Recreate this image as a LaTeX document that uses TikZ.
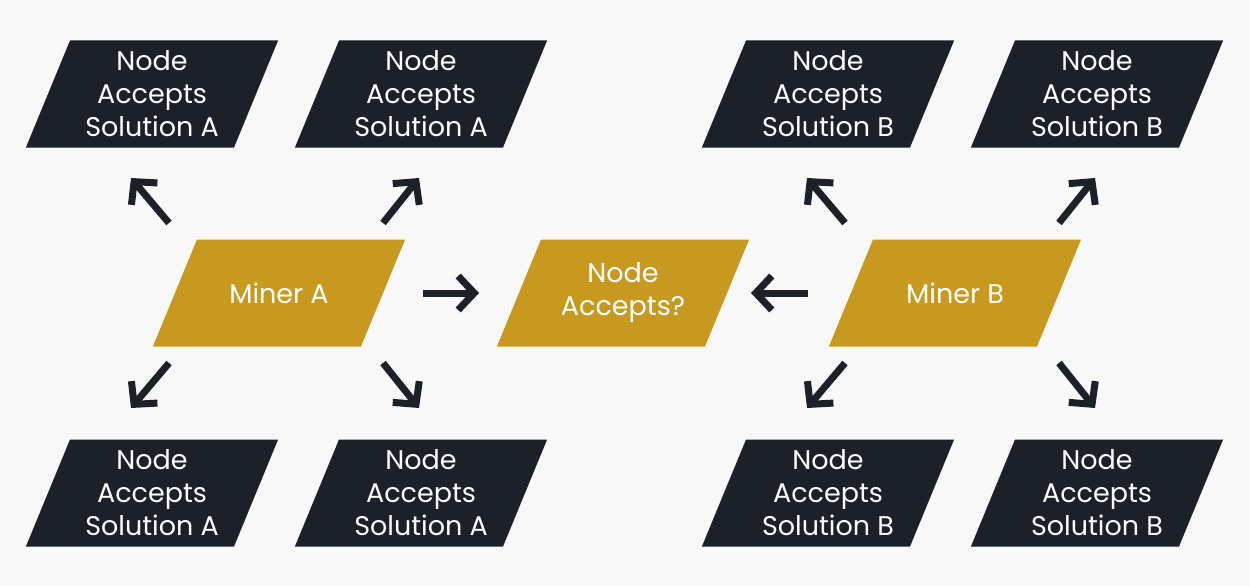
\documentclass[tikz,border=0pt]{standalone}
\usepackage{fontspec}
\setmainfont{Poppins}
\usetikzlibrary{shapes.geometric,arrows.meta}

\definecolor{bgcol}{HTML}{F8F8F8}
\definecolor{darkcol}{HTML}{1B2029}
\definecolor{goldcol}{HTML}{C8991F}

\tikzset{
  para/.style={trapezium, trapezium left angle=67.6, trapezium right angle=112.4,
    inner sep=0pt, text=white, font=\fontsize{27}{33}\selectfont,
    execute at begin node={\begin{minipage}[c][107pt][c]{164pt}\centering},
    execute at end node={\end{minipage}}},
  nodebox/.style={para, fill=darkcol},
  minerbox/.style={para, fill=goldcol},
  arr/.style={draw=darkcol, line width=7pt,
    -{Straight Barb[length=16pt, width=34pt]}}
}

\begin{document}
\begin{tikzpicture}[x=1pt,y=-1pt]
\fill[bgcol] (0,0) rectangle (1250,586);
\useasboundingbox (0,0) rectangle (1250,586);

% top row
\node[nodebox] (topA1) at (152,94) {Node\\Accepts\\Solution A};
\node[nodebox] (topA2) at (421,94) {Node\\Accepts\\Solution A};
\node[nodebox] (topB1) at (828,94) {Node\\Accepts\\Solution B};
\node[nodebox] (topB2) at (1097,94) {Node\\Accepts\\Solution B};

% middle row
\node[minerbox] (minerA) at (279,293) {Miner A};
\node[minerbox] (accept) at (623,293) {Node\\Accepts?};
\node[minerbox] (minerB) at (955,293) {Miner B};

% bottom row
\node[nodebox] (botA1) at (152,493) {Node\\Accepts\\Solution A};
\node[nodebox] (botA2) at (421,493) {Node\\Accepts\\Solution A};
\node[nodebox] (botB1) at (828,493) {Node\\Accepts\\Solution B};
\node[nodebox] (botB2) at (1097,493) {Node\\Accepts\\Solution B};

% arrows out of the miners
\foreach \m in {minerA,minerB} {
  \draw[arr] ([shift={(-110,-70)}]\m.center) -- ([shift={(-148,-115)}]\m.center);
  \draw[arr] ([shift={(104,-70)}]\m.center) -- ([shift={(140,-115)}]\m.center);
  \draw[arr] ([shift={(-110,70)}]\m.center) -- ([shift={(-148,115)}]\m.center);
  \draw[arr] ([shift={(104,70)}]\m.center) -- ([shift={(140,115)}]\m.center);
}
\draw[arr] ([xshift=144pt]minerA.center) -- ([xshift=-144pt]accept.center);
\draw[arr] ([xshift=-147pt]minerB.center) -- ([xshift=128pt]accept.center);
\end{tikzpicture}
\end{document}
